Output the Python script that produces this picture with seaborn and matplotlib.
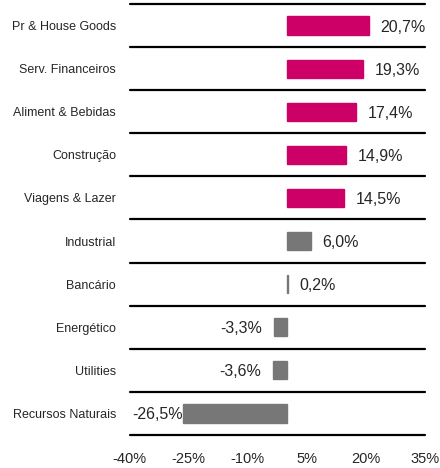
import matplotlib.pyplot as plt
import numpy as np
import pandas as pd
import seaborn as sns

# Dados do gráfico
setores = ['Pr & House Goods', 'Serv. Financeiros', 'Aliment & Bebidas', 'Construção',
           'Viagens & Lazer', 'Industrial', 'Bancário', 'Energético', 'Utilities',
           'Recursos Naturais']
retorno = [20.7, 19.3, 17.4, 14.9, 14.5, 6.0, 0.2, -3.3, -3.6, -26.5]
rotulos = ['20,7%', '19,3%', '17,4%', '14,9%', '14,5%', '6,0%', '0,2%', '-3,3%', '-3,6%', '-26,5%']
ticks = [-40, -25, -10, 5, 20, 35]
tick_labels = ['-40%', '-25%', '-10%', '5%', '20%', '35%']

df = pd.DataFrame({'setor': setores, 'retorno': retorno})
df['grupo'] = ['top'] * 5 + ['resto'] * 5

sns.set_style('white')
plt.rcParams['font.family'] = ['Liberation Sans', 'DejaVu Sans']

fig = plt.figure(figsize=(4.4, 4.68), dpi=100)
ax = fig.add_axes([0.295, 0.0705, 0.671, 0.921])

pal = {'top': '#CC0066', 'resto': '#777777'}
sns.barplot(data=df, y='setor', x='retorno', hue='grupo',
            palette=pal, saturation=1, dodge=False, width=0.42,
            legend=False, ax=ax, orient='h')
# borda fina da mesma cor, para a barra de 0,2% aparecer
for p in ax.patches:
    p.set_edgecolor(p.get_facecolor())
    p.set_linewidth(1.0)

ax.set_xlim(-40, 35)
ax.set_ylim(len(setores) - 0.5, -0.5)
for i in range(len(setores) + 1):
    ax.axhline(i - 0.5, color='black', lw=1.6, clip_on=False)

# rótulos de valor; o que não cabe à esquerda encosta na borda do gráfico
fig.canvas.draw()
renderer = fig.canvas.get_renderer()
for i, (v, lab) in enumerate(zip(retorno, rotulos)):
    if v >= 0:
        ax.text(v + 3.0, i, lab, va='center_baseline', ha='left', fontsize=11.5)
    else:
        t = ax.text(v - 3.0, i, lab, va='center_baseline', ha='right', fontsize=11.5)
        bb = t.get_window_extent(renderer)
        if bb.x0 < ax.bbox.x0:
            t.set_x(-39.3)
            t.set_ha('left')

ax.set_xticks(ticks)
ax.set_xticklabels(tick_labels, fontsize=10.5)
ax.tick_params(axis='y', labelsize=9, length=0, pad=10)
ax.tick_params(axis='x', length=0, pad=12)
ax.set_xlabel('')
ax.set_ylabel('')
sns.despine(ax=ax, left=True, bottom=True, top=True, right=True)

fig.savefig('out.png', dpi=100)
